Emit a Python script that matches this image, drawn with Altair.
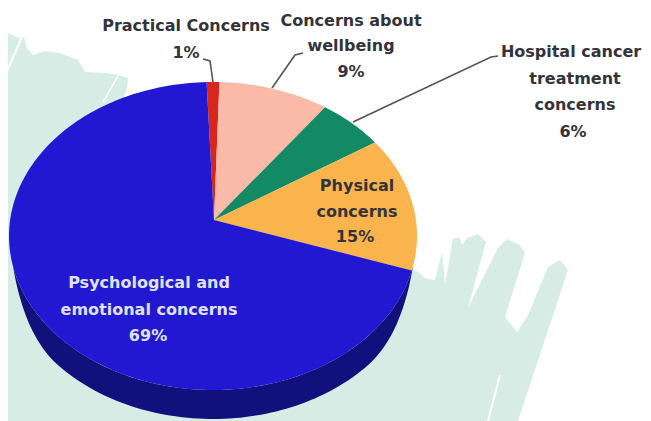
import numpy as np
import pandas as pd
import altair as alt

categories = ["Practical Concerns", "Concerns about wellbeing", "Hospital cancer treatment concerns",
              "Physical concerns", "Psychological and emotional concerns"]
labelled_percent = [1, 9, 6, 15, 69]
drawn_percent = [1, 8.75, 5.35, 14, 70.9]
first_edge_percent = -0.5
colors = ["#d8261c", "#fbb9a8", "#138a63", "#f9b44e", "#2318d2"]

CX, CY, RX, RY = 213, 236, 204, 154
APEX = (214, 220)
W, H = 635, 413
xs = alt.Scale(domain=[8, 643], range=[0, W], nice=False, zero=False)
ys = alt.Scale(domain=[8, 421], range=[0, H], nice=False, zero=False)
X = lambda f="x": alt.X(f"{f}:Q", scale=xs, axis=None)
Y = lambda f="y": alt.Y(f"{f}:Q", scale=ys, axis=None)


def rim(t_deg, drop=0.0):
    t = np.radians(t_deg)
    return CX + RX * np.sin(t), CY - RY * np.cos(t) + drop


def poly(px, py, fill, stroke=None):
    df = pd.DataFrame({"x": px, "y": py, "i": range(len(px))})
    kw = dict(stroke=stroke, strokeWidth=1) if stroke else dict(strokeWidth=0)
    return alt.Chart(df).mark_line(fill=fill, interpolate="linear-closed", clip=True, **kw).encode(
        x=X(), y=Y(), order="i:Q")


def path(px, py, color="#555555", width=1.6):
    df = pd.DataFrame({"x": px, "y": py, "i": range(len(px))})
    return alt.Chart(df).mark_line(color=color, strokeWidth=width, clip=True).encode(x=X(), y=Y(), order="i:Q")


bg_x = [0, 14, 18, 24, 27, 33, 45, 60, 78, 85, 105, 118, 128, 127, 122, 200, 418, 425, 435, 442, 445, 453, 460,
        462, 467, 478, 486, 468, 488, 498, 507, 520, 525, 505, 517, 528, 548, 560, 568, 518, 0]
bg_y = [28, 36, 38, 37, 48, 55, 51, 53, 60, 72, 73, 75, 78, 90, 100, 150, 272, 278, 280, 252, 285, 238, 238,
        245, 238, 234, 242, 308, 268, 248, 239, 245, 253, 317, 332, 315, 267, 260, 270, 421, 421]
layers = [poly(bg_x, bg_y, "#d8ece6")]
layers.append(path([22, 0], [37, 87], "#ffffff", 2))
layers.append(path([500, 488], [375, 421], "#ffffff", 2))
layers.append(path([118, 103], [76, 102], "#ffffff", 1.5))

# side wall of the pie
ts = np.linspace(95, 272, 120)
amt = np.clip((-np.cos(np.radians(ts)) - 0.2) * 2.2, 0, 1)
dep = 29 * np.sin(amt * np.pi / 2)
lx, ly = rim(ts, dep)
ux, uy = rim(ts[::-1])
layers.append(poly(list(lx) + list(ux), list(ly) + list(uy), "#12107c"))

# top face wedges
edge = first_edge_percent
for share, col in zip(drawn_percent, colors):
    a = np.linspace(edge, edge + share, max(3, int(share * 3))) * 3.6
    px, py = rim(a)
    layers.append(poly([APEX[0]] + list(px), [APEX[1]] + list(py), col))
    edge += share

# leaders
layers.append(path([203, 210, 213], [59, 61, 82]))
layers.append(path([303, 295, 272], [53, 55, 88]))
layers.append(path([498, 491, 353], [56, 57, 122]))

dark = "#33333b"
text_lines = ["Practical Concerns", f"{labelled_percent[0]}%",
              "Concerns about", "wellbeing", f"{labelled_percent[1]}%",
              "Hospital cancer", "treatment", "concerns", f"{labelled_percent[2]}%",
              "Physical", "concerns", f"{labelled_percent[3]}%",
              "Psychological and", "emotional concerns", f"{labelled_percent[4]}%"]
text_x = [186, 186, 351, 351, 351, 571, 575, 575, 573, 357, 357, 355, 149, 149, 148]
text_y = [26, 53, 21, 46, 72, 52, 79, 105, 132, 186, 212, 237, 283, 310, 336]
text_c = [dark] * 12 + ["#dfe2f7"] * 3
tdf = pd.DataFrame({"x": text_x, "y": text_y, "t": text_lines, "c": text_c})
layers.append(alt.Chart(tdf).mark_text(font="DejaVu Sans", fontWeight="bold", fontSize=16, align="center",
                                       baseline="middle").encode(
    x=X(), y=Y(), text="t:N", color=alt.Color("c:N", scale=None)))

chart = alt.layer(*layers).properties(width=W, height=H, padding=0, background="white",
                                      autosize=alt.AutoSizeParams(type="none")).configure_view(strokeWidth=0)
chart.save("out.html", embed_options={"renderer": "svg", "actions": False})
